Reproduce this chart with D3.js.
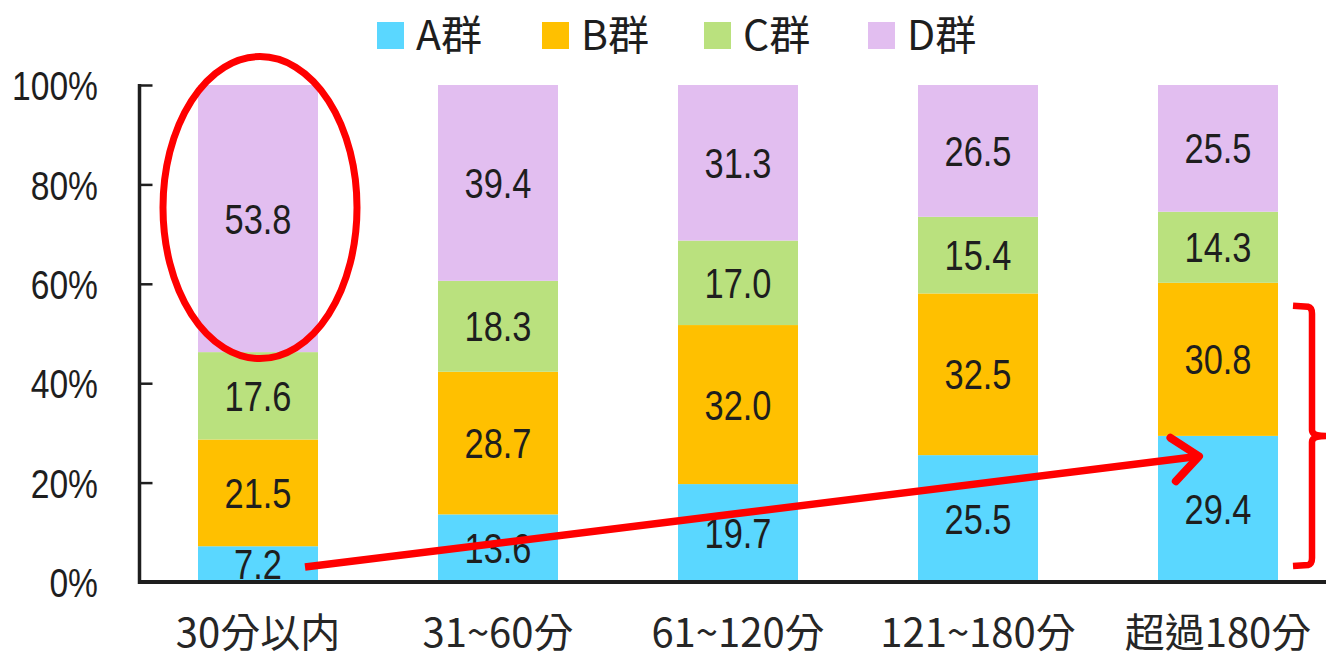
<!DOCTYPE html>
<html>
<head>
<meta charset="utf-8">
<script src="https://cdn.jsdelivr.net/npm/d3@7"></script>
<style>
html,body{margin:0;padding:0;background:#fff;}
svg{display:block;}
</style>
</head>
<body>
<svg id="chart" width="1326" height="660"></svg>
<script>
// ---- data ----
const categories = ["30分以内", "31~60分", "61~120分", "121~180分", "超過180分"];
const seriesNames = ["A群", "B群", "C群", "D群"];
const seriesA = [7.2, 13.6, 19.7, 25.5, 29.4];
const seriesB = [21.5, 28.7, 32.0, 32.5, 30.8];
const seriesC = [17.6, 18.3, 17.0, 15.4, 14.3];
const seriesD = [53.8, 39.4, 31.3, 26.5, 25.5];
const yTicks = [0, 20, 40, 60, 80, 100];
const colors = ["#5AD7FF", "#FFC000", "#BAE17E", "#E2BEF0"];

const W = 1326, H = 660;
const svg = d3.select("#chart");
svg.append("rect").attr("width", W).attr("height", H).attr("fill", "#fff");

const table = categories.map((c, i) => ({
  cat: c, "A群": seriesA[i], "B群": seriesB[i], "C群": seriesC[i], "D群": seriesD[i]
}));
const stacked = d3.stack().keys(seriesNames).offset(d3.stackOffsetExpand)(table);

const axisX0 = 138;
const x = d3.scaleBand().domain(categories).range([axisX0, axisX0 + 1200])
  .paddingInner(0.5).paddingOuter(0.25);
const y = d3.scaleLinear().domain([0, 100]).range([582, 85]);
const yf = v => y(v * 100);

const numFont = "'Liberation Sans', Arial, sans-serif";
const cjkFont = "'Noto Sans CJK TC', 'Noto Sans CJK SC', sans-serif";
const narrow = 0.82;

// bars
const gBars = svg.append("g");
stacked.forEach((s, si) => {
  gBars.selectAll(null).data(s).enter().append("rect")
    .attr("x", d => x(d.data.cat))
    .attr("width", x.bandwidth())
    .attr("y", d => yf(d[1]))
    .attr("height", d => yf(d[0]) - yf(d[1]))
    .attr("fill", colors[si]);
});
// data labels (condensed)
stacked.forEach((s, si) => {
  gBars.selectAll(null).data(s).enter().append("text")
    .attr("transform", d => `translate(${x(d.data.cat) + x.bandwidth() / 2},${(yf(d[0]) + yf(d[1])) / 2}) scale(${narrow},1)`)
    .attr("dy", "0.36em")
    .attr("text-anchor", "middle")
    .attr("font-family", numFont)
    .attr("font-size", 42)
    .attr("fill", "#1e1e1e")
    .text(d => d.data[s.key].toFixed(1));
});

// y axis
const yAxis = d3.axisLeft(y).tickValues(yTicks).tickFormat(d => d + "%").tickSize(-13).tickPadding(0);
const gy = svg.append("g").attr("transform", `translate(${axisX0 + 1.5},0)`).call(yAxis);
gy.select(".domain").remove();
gy.selectAll(".tick line").attr("stroke", "#1e1e1e").attr("stroke-width", 2.5);
gy.selectAll(".tick text")
  .attr("x", 0)
  .attr("transform", `translate(${98 - axisX0 - 1.5},0) scale(${narrow},1)`)
  .attr("font-family", numFont).attr("font-size", 41).attr("fill", "#1e1e1e")
  .attr("dy", "0.36em");
svg.append("line").attr("x1", axisX0 + 1.5).attr("x2", axisX0 + 1.5)
  .attr("y1", y(100) - 1).attr("y2", y(0) + 2)
  .attr("stroke", "#1e1e1e").attr("stroke-width", 3.5);

// x axis
svg.append("line").attr("x1", axisX0).attr("x2", W)
  .attr("y1", y(0)).attr("y2", y(0))
  .attr("stroke", "#1e1e1e").attr("stroke-width", 4);
svg.append("g").selectAll("text").data(categories).enter().append("text")
  .attr("x", d => x(d) + x.bandwidth() / 2)
  .attr("y", 647)
  .attr("text-anchor", "middle")
  .attr("font-family", cjkFont)
  .attr("font-size", 40)
  .attr("fill", "#262626")
  .text(d => d);

// legend
const legX = [377, 542, 704, 868];
const gl = svg.append("g");
seriesNames.forEach((n, i) => {
  gl.append("rect").attr("x", legX[i]).attr("y", 22).attr("width", 27).attr("height", 27).attr("fill", colors[i]);
  gl.append("text").attr("x", legX[i] + 39).attr("y", 50)
    .attr("font-family", cjkFont).attr("font-size", 41).attr("fill", "#1e1e1e").text(n);
});

// annotations
const red = "#FF0000";
const cx0 = x(categories[0]) + x.bandwidth() / 2;
const dTop = stacked[3][0];
svg.append("ellipse")
  .attr("cx", cx0 + 2)
  .attr("cy", (yf(dTop[0]) + yf(dTop[1])) / 2 - 11)
  .attr("rx", 97).attr("ry", 151)
  .attr("fill", "none").attr("stroke", red).attr("stroke-width", 7);

const x4 = x(categories[4]);
const p0 = [cx0 + 47, y(3)];
const p1 = [x4 + x.bandwidth() / 2 - 19, y(25.3)];
svg.append("line").attr("x1", p0[0]).attr("y1", p0[1]).attr("x2", p1[0]).attr("y2", p1[1])
  .attr("stroke", red).attr("stroke-width", 7.5);
const ang = Math.atan2(p1[1] - p0[1], p1[0] - p0[0]);
const armLen = 34, armAng = 40 * Math.PI / 180;
const a1 = [p1[0] - armLen * Math.cos(ang - armAng), p1[1] - armLen * Math.sin(ang - armAng)];
const a2 = [p1[0] - armLen * Math.cos(ang + armAng), p1[1] - armLen * Math.sin(ang + armAng)];
svg.append("path")
  .attr("d", `M${a1[0]},${a1[1]}L${p1[0]},${p1[1]}L${a2[0]},${a2[1]}`)
  .attr("fill", "none").attr("stroke", red).attr("stroke-width", 8)
  .attr("stroke-linecap", "round").attr("stroke-linejoin", "round");

// bracket
const bx0 = x4 + x.bandwidth() + 15, bx1 = bx0 + 19, bxt = bx1 + 14;
const bt = y(55.6), bb = y(3.2), bm = (bt + bb) / 2;
svg.append("path")
  .attr("d", `M${bx0},${bt}L${bx1 - 4},${bt + 1}Q${bx1},${bt + 2} ${bx1},${bt + 8}L${bx1},${bm - 6}Q${bx1},${bm} ${bxt},${bm}` +
             `M${bxt},${bm}Q${bx1},${bm} ${bx1},${bm + 6}L${bx1},${bb - 8}Q${bx1},${bb - 2} ${bx1 - 4},${bb - 1}L${bx0},${bb}`)
  .attr("fill", "none").attr("stroke", red).attr("stroke-width", 6.5);
</script>
</body>
</html>
